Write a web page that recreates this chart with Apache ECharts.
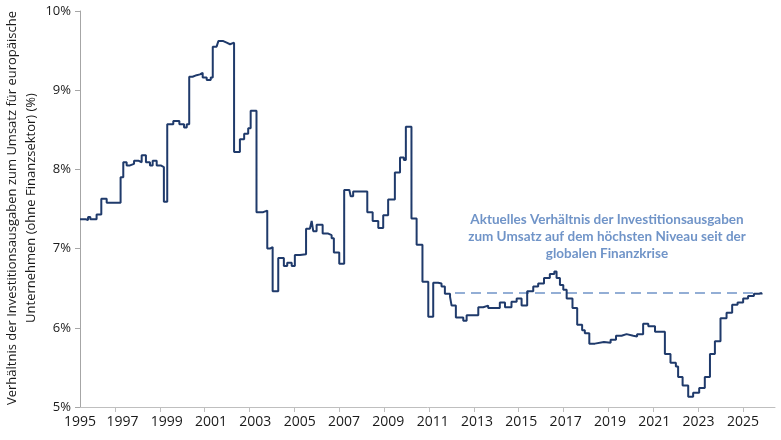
<!DOCTYPE html>
<html>
<head>
<meta charset="utf-8">
<script src="https://cdn.jsdelivr.net/npm/echarts@6/dist/echarts.min.js"></script>
<style>
    html, body {margin: 0; padding: 0; background: #fff;}
    #chart {width: 781px; height: 440px;}
</style>
</head>
<body>
<div id="chart"></div>
<script>
// Zeitpunkte (Jahr als Dezimalzahl) und Quote in %
var years = [
    1995.44, 1995.70, 1995.80, 1995.90, 1996.18, 1996.39, 1996.63, 1997.25, 1997.37, 1997.52,
    1997.67, 1997.85, 1998.04, 1998.19, 1998.38, 1998.56, 1998.68, 1998.86, 1999.04, 1999.18,
    1999.33, 1999.60, 1999.87, 2000.08, 2000.20, 2000.31, 2000.46, 2000.64, 2000.79, 2000.91,
    2001.09, 2001.27, 2001.36, 2001.53, 2001.61, 2001.83, 2001.98, 2002.13, 2002.31, 2002.57,
    2002.76, 2002.94, 2003.05, 2003.31, 2003.61, 2003.79, 2003.91, 2004.03, 2004.28, 2004.53,
    2004.68, 2004.88, 2005.02, 2005.25, 2005.52, 2005.69, 2005.77, 2005.84, 2005.99, 2006.26,
    2006.51, 2006.66, 2006.76, 2007.00, 2007.22, 2007.45, 2007.51, 2007.62, 2007.92, 2008.25,
    2008.49, 2008.74, 2008.96, 2009.18, 2009.48, 2009.71, 2009.88, 2009.97, 2010.22, 2010.45,
    2010.71, 2010.97, 2011.19, 2011.41, 2011.56, 2011.71, 2011.94, 2012.01, 2012.20, 2012.53,
    2012.68, 2013.20, 2013.42, 2013.64, 2014.16, 2014.39, 2014.68, 2014.91, 2015.13, 2015.38,
    2015.65, 2015.87, 2016.13, 2016.39, 2016.59, 2016.69, 2016.84, 2016.99, 2017.14, 2017.40,
    2017.61, 2017.83, 2017.95, 2018.15, 2018.40, 2018.80, 2019.10, 2019.34, 2019.59, 2019.81,
    2020.11, 2020.28, 2020.55, 2020.78, 2021.08, 2021.52, 2021.77, 2022.01, 2022.11, 2022.31,
    2022.56, 2022.78, 2023.05, 2023.30, 2023.53, 2023.75, 2024.00, 2024.27, 2024.52, 2024.76,
    2025.01, 2025.23, 2025.49, 2025.72, 2025.83
];
var ratio = [
    7.37, 7.36, 7.40, 7.37, 7.43, 7.63, 7.58, 7.90, 8.09, 8.05,
    8.07, 8.11, 8.09, 8.18, 8.09, 8.05, 8.11, 8.05, 8.03, 7.59,
    8.57, 8.61, 8.57, 8.53, 8.57, 9.17, 9.19, 9.20, 9.22, 9.16,
    9.13, 9.16, 9.55, 9.57, 9.62, 9.60, 9.58, 9.60, 8.22, 8.38,
    8.45, 8.52, 8.74, 7.46, 7.48, 7.00, 7.02, 6.46, 6.88, 6.78,
    6.82, 6.78, 6.92, 6.93, 7.25, 7.27, 7.35, 7.22, 7.30, 7.19,
    7.17, 7.13, 6.95, 6.81, 7.74, 7.76, 7.66, 7.72, 7.72, 7.46,
    7.35, 7.26, 7.42, 7.62, 7.96, 8.15, 8.12, 8.54, 7.38, 7.05,
    6.58, 6.14, 6.57, 6.56, 6.52, 6.43, 6.39, 6.28, 6.13, 6.09,
    6.16, 6.26, 6.28, 6.25, 6.32, 6.26, 6.33, 6.37, 6.28, 6.46,
    6.52, 6.56, 6.63, 6.68, 6.71, 6.63, 6.54, 6.48, 6.37, 6.25,
    6.04, 5.97, 5.93, 5.80, 5.82, 5.81, 5.85, 5.90, 5.92, 5.90,
    5.89, 5.92, 6.05, 6.02, 5.95, 5.67, 5.56, 5.51, 5.38, 5.27,
    5.13, 5.18, 5.24, 5.38, 5.67, 5.83, 6.12, 6.19, 6.29, 6.32,
    6.37, 6.40, 6.43, 6.44, 6.42
];
// gestrichelte Linie: aktuelles Niveau
var levelYears = [2012.16, 2025.6];
var levelValue = [6.44, 6.44];
// Achsen
var xTicks = [1997, 1999, 2001, 2003, 2005, 2007, 2009, 2011, 2013, 2015, 2017, 2019, 2021, 2023, 2025];
var xMin = 1995.44, xMax = 2026.43;
var yMin = 5, yMax = 10, yStep = 1;

var e = echarts.init(document.getElementById('chart'));
var mainData = [];
for (var i = 0; i < years.length; i++) {
    mainData.push([years[i], ratio[i]]);
}
var levelData = [];
for (var j = 0; j < levelYears.length; j++) {
    levelData.push([levelYears[j], levelValue[j]]);
}
// Beschriftungen sitzen links leicht rechts neben dem Strich, rechts mittig
var labelPos = [xMin];
for (var k = 0; k < xTicks.length; k++) {
    labelPos.push(xTicks[k] + (2025 - xTicks[k]) / 28 * 0.33);
}
var font = '"Open Sans", sans-serif';
var option = {
    animation: false,
    grid: {left: 80, right: 6, top: 11, bottom: 33},
    xAxis: {
        type: 'value',
        min: xMin,
        max: xMax,
        splitLine: {show: false},
        axisLine: {lineStyle: {color: '#bfbfbf', width: 1}},
        axisTick: {show: true, length: 5, lineStyle: {color: '#bfbfbf'}, customValues: xTicks},
        axisLabel: {
            color: '#1a1a1a', fontFamily: font, fontSize: 14, margin: 8,
            customValues: labelPos,
            formatter: function (v) { return String(Math.floor(v + 0.5)); }
        }
    },
    yAxis: {
        type: 'value',
        min: yMin,
        max: yMax,
        interval: yStep,
        splitLine: {show: false},
        axisLine: {show: true, lineStyle: {color: '#a6a6a6', width: 1}},
        axisTick: {show: true, length: 5, lineStyle: {color: '#a6a6a6'}},
        axisLabel: {color: '#1a1a1a', fontFamily: font, fontSize: 13, margin: 9, formatter: '{value}%'}
    },
    series: [
        {
            type: 'line',
            data: levelData,
            symbol: 'none',
            lineStyle: {color: '#7094c8', width: 1.5, type: [10, 6]},
            z: 1
        },
        {
            type: 'line',
            data: mainData,
            step: 'end',
            symbol: 'none',
            lineStyle: {color: '#1f3a6b', width: 2},
            z: 2
        }
    ],
    graphic: [
        {
            type: 'text',
            x: 22,
            y: 208,
            rotation: Math.PI / 2,
            style: {
                text: 'Verhältnis der Investitionsausgaben zum Umsatz für europäische\nUnternehmen (ohne Finanzsektor) (%)',
                fill: '#1a1a1a',
                font: '13px "Open Sans", sans-serif',
                lineHeight: 19,
                textAlign: 'center',
                textVerticalAlign: 'middle'
            }
        },
        {
            type: 'text',
            x: 607,
            y: 237,
            style: {
                text: 'Aktuelles Verhältnis der Investitionsausgaben\nzum Umsatz auf dem höchsten Niveau seit der\nglobalen Finanzkrise',
                fill: '#7094c8',
                font: 'bold 13.5px Lato, sans-serif',
                lineHeight: 17,
                textAlign: 'center',
                textVerticalAlign: 'middle'
            }
        }
    ]
};
e.setOption(option);
</script>
</body>
</html>
